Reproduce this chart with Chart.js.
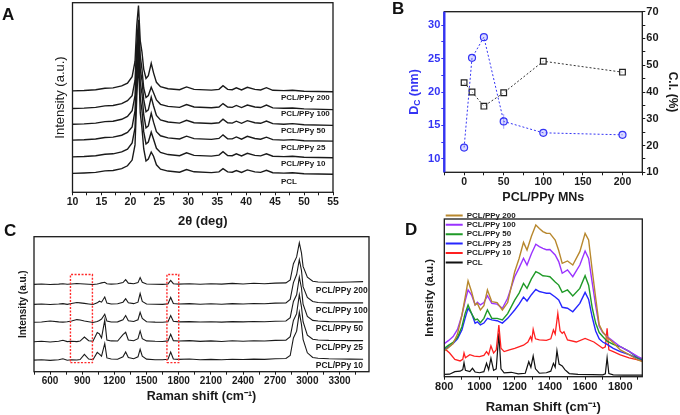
<!DOCTYPE html>
<html>
<head>
<meta charset="utf-8">
<script src="https://cdn.jsdelivr.net/npm/chart.js@4.4.1/dist/chart.umd.min.js"></script>
<style>
  body { margin: 0; background: #fff; }
  #wrap { position: relative; width: 680px; height: 415px; overflow: hidden; font-family: 'Liberation Sans', Arial, sans-serif; }
  canvas { position: absolute; }
  .tag { position: absolute; font-weight: bold; font-size: 17px; line-height: 1; color: #111; }
</style>
</head>
<body>
<div id="wrap">
  <canvas id="chartA" width="340" height="230" style="left:0;top:0"></canvas>
  <canvas id="chartB" width="340" height="215" style="left:340px;top:0"></canvas>
  <canvas id="chartC" width="380" height="190" style="left:0;top:225px"></canvas>
  <canvas id="chartD" width="300" height="205" style="left:380px;top:210px"></canvas>
  <div class="tag" style="left:2px;top:6px">A</div>
  <div class="tag" style="left:392px;top:0px">B</div>
  <div class="tag" style="left:4px;top:222px">C</div>
  <div class="tag" style="left:405px;top:221px">D</div>
</div>
<script>
// ---- A: XRD, 2theta (deg) ----
const aX = [10, 12, 14, 15.6, 17, 18.5, 19.5, 20.3, 20.8, 21.1, 21.4, 21.7, 22.0, 22.3, 22.7, 23.1, 23.6, 24.0, 24.5, 25.2,
  26.5, 28.5, 29.7, 31, 34, 35.3, 36.0, 36.8, 37.6, 38.3, 39.2, 40.2, 41.5, 42.5, 43.5, 44.6, 46.5, 48.0, 50, 55];
const aPCL = [10, 10.2, 10.5, 11.3, 11.5, 12.5, 14, 17, 25, 50, 70, 42, 34, 23, 16.5, 17.5, 21.2, 19, 14.5, 12.2,
  11.2, 10.6, 12, 10.8, 10.4, 10.8, 12.5, 10.8, 10.6, 11.5, 10.5, 11.8, 10.8, 10.5, 11.6, 10.3, 10.1, 10.3, 9.8, 9.5];
const aP10 = [18.7, 18.9, 19.3, 20.1, 20.3, 21.3, 22.8, 26, 34, 58, 77, 50, 43, 32, 25.5, 26.5, 31.7, 28, 23.2, 21,
  19.9, 19.3, 20.8, 19.5, 19.1, 19.6, 21.4, 19.4, 19.3, 20.3, 19.2, 20.6, 19.5, 19.2, 20.3, 19, 18.8, 19, 18.5, 18.2];
const aP25 = [27.5, 27.7, 28.1, 28.9, 29.1, 30.1, 31.6, 34.5, 43, 66, 83, 58, 52, 41, 34, 35, 41.7, 37, 32, 29.8,
  28.7, 28.1, 29.6, 28.3, 27.9, 28.4, 30.3, 28.2, 28.2, 29.2, 28, 29.5, 28.4, 28, 29.1, 27.8, 27.5, 27.8, 27.2, 27];
const aP50 = [35.9, 36.1, 36.5, 37.3, 37.5, 38.5, 40, 43, 51, 72, 86, 65, 59, 49, 42.5, 43.5, 50.2, 45.5, 40.5, 38.2,
  37.1, 36.5, 38, 36.7, 36.3, 36.7, 38.6, 36.7, 36.5, 37.5, 36.4, 37.8, 36.7, 36.4, 37.6, 36.2, 35.9, 36.2, 35.6, 35.3];
const aP100 = [44.2, 44.4, 44.8, 45.6, 45.8, 46.8, 48.3, 51, 59, 78, 91, 72, 65, 55, 50, 51, 55.4, 52.5, 48.7, 46.4,
  45.3, 44.8, 46.3, 45, 44.6, 45, 46.8, 45, 44.8, 45.8, 44.7, 46, 45, 44.7, 46, 44.5, 44.3, 44.5, 44, 43.6];
const aP200 = [53.5, 53.7, 54.1, 54.9, 55.1, 56.1, 57.6, 61, 69, 88, 98.5, 80, 74, 65, 60, 61.5, 68, 63, 58, 55.7,
  54.6, 54.1, 55.6, 54.3, 53.9, 54.3, 56.2, 54.3, 54.1, 55.1, 54, 55.4, 54.3, 54, 55.2, 53.8, 53.6, 53.8, 53.3, 53];
const aNames = ['PCL/PPy 200', 'PCL/PPy 100', 'PCL/PPy 50', 'PCL/PPy 25', 'PCL/PPy 10', 'PCL'];
const aNameY = [49.6, 41.2, 32.3, 23.3, 14.9, 5.4];

// ---- B: crystallite size and crystallinity ----
const bX = [0, 10, 25, 50, 100, 200];
const bDc = [11.7, 25.1, 28.2, 15.6, 13.9, 13.6];
const bDcErr = [0, 0, 0, 1.1, 0, 0];
const bCI = [43.5, 40.0, 34.7, 39.7, 51.5, 47.4];

// ---- C: Raman, full range ----
const cX = [450, 520, 600, 680, 720, 760, 800, 850, 880, 920, 960, 1000, 1040, 1060, 1080, 1110, 1130, 1170, 1230, 1280,
  1305, 1330, 1380, 1420, 1440, 1460, 1500, 1580, 1650, 1700, 1725, 1750, 1800, 1900, 2000, 2100, 2200, 2300, 2400, 2500,
  2600, 2700, 2800, 2840, 2870, 2900, 2925, 2945, 2960, 3000, 3050, 3100, 3200, 3300, 3400, 3520];
const cP10 = [8.6, 8.9, 8.4, 8.8, 9.6, 8.5, 8.8, 8.7, 9.0, 12.8, 9.4, 8.9, 14.3, 13.0, 11.5, 20.9, 10.2, 9.4, 9.2, 11.0,
  14.6, 10.5, 9.6, 11.0, 16.6, 11.5, 9.3, 8.9, 8.8, 9.2, 14.6, 9.4, 9.1, 9.4, 8.9, 9.1, 8.8, 9.2, 9.0, 9.3,
  9.1, 9.6, 9.8, 12.0, 25.0, 30.0, 44.0, 35.0, 24.0, 14.0, 10.5, 10.0, 9.6, 9.4, 9.3, 9.2];
const cP25 = [22.2, 22.5, 22.0, 22.6, 23.3, 22.3, 22.5, 22.3, 22.7, 25.7, 22.9, 22.6, 29.0, 28.0, 25.0, 38.2, 23.5, 22.8, 22.7, 27.5,
  29.2, 23.5, 22.9, 24.5, 30.2, 24.5, 22.8, 22.5, 22.4, 22.8, 27.7, 23.0, 22.7, 23.0, 22.5, 22.8, 22.4, 22.9, 22.6, 22.9,
  22.7, 23.2, 23.4, 26.0, 38.0, 43.0, 57.0, 48.0, 37.0, 27.0, 24.0, 23.5, 23.2, 23.1, 23.0, 23.0];
const cP50 = [36.6, 36.8, 37.6, 36.9, 36.7, 37.0, 37.6, 38.6, 38.3, 37.5, 37.0, 36.5, 37.2, 38.0, 39.0, 42.6, 37.5, 36.8, 36.9, 38.5,
  41.6, 37.8, 37.2, 38.5, 44.0, 39.5, 37.0, 36.7, 36.6, 37.0, 41.6, 37.3, 36.9, 37.1, 36.8, 37.0, 36.7, 37.1, 36.9, 37.2,
  37.0, 37.4, 37.6, 40.0, 52.0, 57.0, 70.0, 62.0, 50.0, 41.0, 38.0, 37.5, 37.1, 37.0, 36.9, 36.9];
const cP100 = [49.9, 50.2, 49.8, 50.1, 50.4, 49.9, 50.5, 51.3, 51.0, 50.6, 50.2, 49.8, 51.0, 52.2, 51.5, 55.3, 50.8, 50.2, 50.3, 51.5,
  54.0, 51.0, 50.4, 51.5, 57.9, 52.0, 50.2, 50.0, 49.9, 50.3, 55.0, 50.5, 50.1, 50.4, 50.0, 50.3, 50.0, 50.4, 50.1, 50.5,
  50.3, 50.8, 51.0, 53.5, 66.0, 72.0, 83.0, 75.0, 63.0, 55.0, 52.0, 51.3, 51.0, 51.0, 51.0, 51.0];
const cP200 = [64.7, 65.0, 64.6, 64.9, 65.2, 64.8, 65.0, 65.3, 65.2, 65.0, 64.8, 64.6, 65.0, 65.3, 65.8, 66.2, 65.2, 64.9, 65.1, 66.0,
  68.2, 65.6, 65.1, 66.0, 69.7, 66.2, 65.0, 64.8, 64.7, 65.0, 67.7, 65.2, 64.9, 65.2, 64.8, 65.1, 64.9, 65.4, 65.0, 65.5,
  65.2, 65.6, 65.8, 68.0, 80.0, 85.0, 95.5, 88.0, 78.0, 70.0, 67.0, 66.5, 66.3, 66.3, 66.5, 66.7];
const cNames = ['PCL/PPy 200', 'PCL/PPy 100', 'PCL/PPy 50', 'PCL/PPy 25', 'PCL/PPy 10'];
const cNameY = [60, 45.2, 32.1, 18.1, 4.2];
// dotted boxes: [x1, x2] at the same height range
const cBoxX = [[790, 995], [1690, 1800]];
const cBoxY = [6.7, 72];

// ---- D: Raman, 800-1900 ----
const dXPcl = [800, 830, 860, 890, 905, 912, 920, 945, 960, 975, 1000, 1025, 1040, 1052, 1065, 1080, 1095, 1110, 1122, 1140,
  1180, 1220, 1260, 1280, 1292, 1305, 1318, 1340, 1380, 1405, 1420, 1430, 1440, 1452, 1470, 1485, 1510, 1560, 1640, 1700,
  1715, 1725, 1735, 1760, 1820, 1900, 1925];
const dPcl = [1.5, 1.6, 3.2, 3.5, 4.5, 8.9, 4, 3.2, 5.3, 3, 2.5, 3.2, 8.5, 4.5, 11.7, 4, 5, 27.5, 5, 2.5,
  2.8, 1.8, 2.2, 9.5, 6, 13.1, 5, 2.2, 2.5, 3.5, 8.5, 6, 16.5, 8, 6.8, 4.5, 2, 1.5, 1.3, 1.2,
  1.8, 12, 2, 1.2, 1, 1, 1];
const dXP10 = [800, 830, 860, 890, 905, 912, 920, 945, 970, 1000, 1025, 1040, 1052, 1065, 1080, 1095, 1110, 1122, 1140, 1170,
  1200, 1250, 1275, 1290, 1297, 1305, 1318, 1340, 1380, 1405, 1420, 1430, 1445, 1458, 1470, 1480, 1500, 1550, 1600, 1650,
  1700, 1715, 1725, 1735, 1760, 1800, 1850, 1900, 1925];
const dP10 = [18, 15, 11, 10, 11, 15, 12, 14, 13, 12.7, 13.5, 15.9, 14, 19.5, 15, 17, 32.8, 18, 15.9, 17,
  18, 20, 22, 25.4, 23, 30, 24, 23.3, 23, 24, 29.6, 27, 40.2, 29, 27.5, 28.5, 23.3, 22, 24.3, 22,
  18, 19, 30.7, 17, 15.9, 13.8, 12, 10.6, 10];
const dXBroad = [800, 825, 850, 875, 900, 918, 935, 955, 975, 988, 1005, 1025, 1045, 1070, 1100, 1130, 1160, 1200, 1225, 1250,
  1270, 1295, 1320, 1340, 1360, 1380, 1400, 1430, 1450, 1470, 1500, 1530, 1570, 1600, 1620, 1640, 1660, 1680, 1700, 1725,
  1760, 1800, 1850, 1900, 1925];
const dP25 = [17, 19, 21, 24, 29.6, 37, 43.4, 40.2, 33.9, 34.8, 32.8, 34, 37, 36, 35.5, 34, 37, 42.3, 46, 50.5,
  48, 52, 55.4, 54, 53.5, 52.9, 53, 50.5, 48.6, 44, 43.4, 41.2, 46.5, 53.5, 49, 38, 29, 24, 22, 20.5,
  18, 15.9, 14, 11.7, 10.5];
const dP50 = [18, 20, 21.8, 25, 31.7, 40, 45.5, 40, 36, 36.5, 34.3, 37, 42.3, 37, 37, 36, 40, 48.6, 53, 59.2,
  56, 62, 66.6, 65.5, 64, 63.8, 63.4, 60, 58.1, 53.5, 55, 51.2, 56, 64, 58, 44, 34, 28, 25.5, 22.5,
  20.5, 19, 16, 12, 11];
const dP100 = [21, 23, 25.4, 30, 39, 48, 55, 51.8, 45.5, 47.2, 45.5, 47, 51.4, 46.5, 46, 43.4, 49.7, 63.4, 69, 75.1,
  70.8, 78, 84, 82.5, 81.4, 80.5, 80.7, 77.2, 73, 65.6, 67.7, 63.4, 70.8, 79.7, 75, 60, 45, 32, 28, 25.5,
  22.5, 19, 16, 12.7, 11.5];
const dP200 = [16.3, 18.5, 21, 27, 39, 50, 60.7, 53.9, 45.5, 46.5, 42.3, 45, 55, 47.6, 47, 42.3, 47, 66.6, 75, 85.2,
  80.3, 89, 96.2, 94, 92, 91, 90.9, 86.7, 80, 71.9, 73.4, 70.8, 79.3, 90.9, 86.7, 68, 50, 33, 28.5, 25,
  21.5, 17, 14, 10.6, 9.5];

const FONT = "'Liberation Sans', Arial, sans-serif";
Chart.defaults.font.family = FONT;
Chart.defaults.color = '#111';
Chart.defaults.animation = false;

const BLUE = '#3434f4';
const INK = '#1a1a1a';

function pts(xs, ys) { return xs.map((x, i) => ({ x: x, y: ys[i] })); }
function trace(label, xs, ys, color, width) {
  return { label: label, data: pts(xs, ys), borderColor: color, backgroundColor: color,
    borderWidth: width, pointRadius: 0, tension: 0, fill: false };
}
function every(n) { return v => (Math.abs(v % n) < 1e-6 ? String(v) : ''); }

// box round the plot area
const frame = {
  id: 'frame',
  afterDatasetsDraw(chart, args, opts) {
    const { ctx, chartArea: a } = chart;
    ctx.save();
    ctx.strokeStyle = INK;
    ctx.lineWidth = 1.3;
    ctx.strokeRect(a.left, a.top, a.width, a.height);
    if (opts && opts.leftColor) {
      ctx.strokeStyle = opts.leftColor;
      ctx.lineWidth = 2.4;
      ctx.beginPath(); ctx.moveTo(a.left, a.top); ctx.lineTo(a.left, a.bottom); ctx.stroke();
    }
    ctx.restore();
  }
};

// series names written next to the stacked traces
const seriesTags = {
  id: 'seriesTags',
  afterDatasetsDraw(chart, args, opts) {
    if (!opts || !opts.names) return;
    const { ctx, scales } = chart;
    ctx.save();
    ctx.font = opts.font;
    ctx.fillStyle = INK;
    ctx.textBaseline = 'middle';
    opts.names.forEach((n, i) => {
      ctx.fillText(n, scales.x.getPixelForValue(opts.at), scales.y.getPixelForValue(opts.ys[i]));
    });
    ctx.restore();
  }
};

function xAxis(min, max, step, labelEvery, fontSize, title, titleSize, titlePad, height) {
  return {
    type: 'linear', min: min, max: max,
    border: { display: false },
    grid: { drawOnChartArea: false, tickLength: 3, tickColor: INK, tickWidth: 1 },
    ticks: { stepSize: step, includeBounds: false, autoSkip: false, maxRotation: 0, padding: 0.5,
      color: INK, font: { size: fontSize, weight: 'bold' }, callback: every(labelEvery) },
    title: { display: true, text: title, color: INK, font: { size: titleSize, weight: 'bold' },
      padding: { top: 0, bottom: titlePad } },
    afterFit: s => { s.height = height; }
  };
}
function hiddenY(title, size, weight, width) {
  return {
    min: 0, max: 100,
    border: { display: false }, grid: { display: false }, ticks: { display: false },
    title: { display: true, text: title, color: INK, font: { size: size, weight: weight }, padding: 0 },
    afterFit: s => { s.width = width; }
  };
}

// ---------- A ----------
new Chart(document.getElementById('chartA'), {
  type: 'line',
  data: { datasets: [
    trace('PCL/PPy 200', aX, aP200, INK, 1.4),
    trace('PCL/PPy 100', aX, aP100, INK, 1.4),
    trace('PCL/PPy 50', aX, aP50, INK, 1.4),
    trace('PCL/PPy 25', aX, aP25, INK, 1.4),
    trace('PCL/PPy 10', aX, aP10, INK, 1.4),
    trace('PCL', aX, aPCL, INK, 1.4)
  ] },
  options: {
    responsive: false,
    layout: { padding: { left: 52.9, top: 2.7, right: 7, bottom: 0 } },
    plugins: { legend: { display: false }, tooltip: { enabled: false },
      seriesTags: { names: aNames, ys: aNameY, at: 46, font: 'bold 8px ' + FONT } },
    scales: {
      x: xAxis(10, 55, 2.5, 5, 10.5, '2\u03B8 (deg)', 13, 1.2, 37.7),
      y: hiddenY('Intensity (a.u.)', 13, 'normal', 19.6)
    }
  },
  plugins: [frame, seriesTags]
});

// ---------- B ----------
const dcTitle = {
  id: 'dcTitle',
  afterDraw(chart) {
    const ctx = chart.ctx;
    const big = 'bold 12.5px ' + FONT, small = 'bold 8.5px ' + FONT;
    ctx.save();
    ctx.translate(74.5, 92);
    ctx.rotate(-Math.PI / 2);
    ctx.fillStyle = BLUE;
    ctx.textBaseline = 'middle';
    ctx.font = big;
    const w1 = ctx.measureText('D').width, w3 = ctx.measureText(' (nm)').width;
    ctx.font = small;
    const w2 = ctx.measureText('C').width;
    const x0 = -(w1 + w2 + w3) / 2;
    ctx.font = big; ctx.fillText('D', x0, 0);
    ctx.font = small; ctx.fillText('C', x0 + w1, 3);
    ctx.font = big; ctx.fillText(' (nm)', x0 + w1 + w2, 0);
    ctx.restore();
  }
};

const errSets = bX.filter((x, i) => bDcErr[i] > 0).map(x => {
  const i = bX.indexOf(x);
  return { label: 'err', data: [{ x: x, y: bDc[i] - bDcErr[i] }, { x: x, y: bDc[i] + bDcErr[i] }],
    yAxisID: 'yL', borderColor: 'rgba(90,90,255,0.55)', borderWidth: 1, pointRadius: 0 };
});

new Chart(document.getElementById('chartB'), {
  type: 'line',
  data: { datasets: [
    { label: 'Dc', data: pts(bX, bDc), yAxisID: 'yL', borderColor: BLUE, borderWidth: 1, borderDash: [2, 2],
      pointRadius: 3.5, pointBorderColor: BLUE, pointBackgroundColor: 'rgba(150,150,255,0.35)', pointBorderWidth: 1.2 },
    { label: 'C.I.', data: pts(bX, bCI), yAxisID: 'yR', borderColor: '#333', borderWidth: 1, borderDash: [2, 2],
      pointStyle: 'rect', pointRadius: 4, pointBorderColor: '#222', pointBackgroundColor: 'rgba(255,255,255,0.6)', pointBorderWidth: 1.2 },
    ...errSets
  ] },
  options: {
    responsive: false,
    layout: { padding: { left: 0, top: 11.7, right: 0, bottom: 0 } },
    plugins: { legend: { display: false }, tooltip: { enabled: false }, frame: { leftColor: BLUE } },
    scales: {
      x: xAxis(-25, 225, 25, 50, 10.5, 'PCL/PPy MNs', 12.5, 9.5, 42.7),
      yL: {
        position: 'left', min: 8, max: 32,
        border: { display: false },
        grid: { drawOnChartArea: false, tickLength: 3, tickColor: BLUE, tickWidth: 1 },
        ticks: { stepSize: 2.5, includeBounds: false, autoSkip: false, padding: 1, color: BLUE,
          font: { size: 11, weight: 'bold' }, callback: every(5) },
        afterFit: s => { s.width = 104.3; }
      },
      yR: {
        position: 'right', min: 10, max: 70,
        border: { display: false },
        grid: { drawOnChartArea: false, tickLength: 3, tickColor: INK, tickWidth: 1 },
        ticks: { stepSize: 5, autoSkip: false, padding: 1, color: INK,
          font: { size: 11, weight: 'bold' }, callback: every(10) },
        title: { display: true, text: 'C.I. (%)', color: INK, font: { size: 12, weight: 'bold' }, padding: 0 },
        afterFit: s => { s.width = 37.7; }
      }
    }
  },
  plugins: [frame, dcTitle]
});

// ---------- C ----------
const boxSets = cBoxX.map(b => ({
  label: 'box', data: [{ x: b[0], y: cBoxY[0] }, { x: b[1], y: cBoxY[0] }, { x: b[1], y: cBoxY[1] },
    { x: b[0], y: cBoxY[1] }, { x: b[0], y: cBoxY[0] }],
  borderColor: '#ff2a2a', borderWidth: 1.4, borderDash: [2, 1.5], pointRadius: 0, tension: 0
}));

new Chart(document.getElementById('chartC'), {
  type: 'line',
  data: { datasets: [
    ...boxSets,
    trace('PCL/PPy 200', cX, cP200, INK, 1.1),
    trace('PCL/PPy 100', cX, cP100, INK, 1.1),
    trace('PCL/PPy 50', cX, cP50, INK, 1.1),
    trace('PCL/PPy 25', cX, cP25, INK, 1.1),
    trace('PCL/PPy 10', cX, cP10, INK, 1.1)
  ] },
  options: {
    responsive: false,
    layout: { padding: { left: 17, top: 11.7, right: 11, bottom: 0 } },
    plugins: { legend: { display: false }, tooltip: { enabled: false },
      seriesTags: { names: cNames, ys: cNameY, at: 3078, font: 'bold 8.5px ' + FONT } },
    scales: {
      x: xAxis(450, 3575, 150, 300, 10, 'Raman shift (cm\u207B\u00B9)', 12.5, 10.5, 43.3),
      y: hiddenY('Intensity (a.u.)', 10, 'bold', 17)
    }
  },
  plugins: [frame, seriesTags]
});

// ---------- D ----------
new Chart(document.getElementById('chartD'), {
  type: 'line',
  data: { datasets: [
    trace('PCL/PPy 200', dXBroad, dP200, '#b8882e', 1.4),
    trace('PCL/PPy 100', dXBroad, dP100, '#9a33ff', 1.4),
    trace('PCL/PPy 50', dXBroad, dP50, '#1f9a27', 1.4),
    trace('PCL/PPy 25', dXBroad, dP25, '#2626ff', 1.4),
    trace('PCL/PPy 10', dXP10, dP10, '#ff2020', 1.3),
    trace('PCL', dXPcl, dPcl, '#111111', 1.2)
  ] },
  options: {
    responsive: false,
    layout: { padding: { left: 43.1, top: 9, right: 37.7, bottom: 0 } },
    plugins: {
      tooltip: { enabled: false },
      legend: {
        position: 'chartArea', align: 'start',
        labels: {
          usePointStyle: true, pointStyle: 'line', pointStyleWidth: 17, boxHeight: 8, padding: 1.4,
          color: INK, font: { size: 8, weight: 'bold' },
          generateLabels: chart => Chart.defaults.plugins.legend.labels.generateLabels(chart)
            .map(l => Object.assign(l, { lineWidth: 2 }))
        }
      }
    },
    scales: {
      x: xAxis(800, 1925, 100, 200, 11, 'Raman Shift (cm\u207B\u00B9)', 13, 0, 38.3),
      y: hiddenY('Intensity (a.u.)', 11.5, 'bold', 21.2)
    }
  },
  plugins: [frame]
});
</script>
</body>
</html>
